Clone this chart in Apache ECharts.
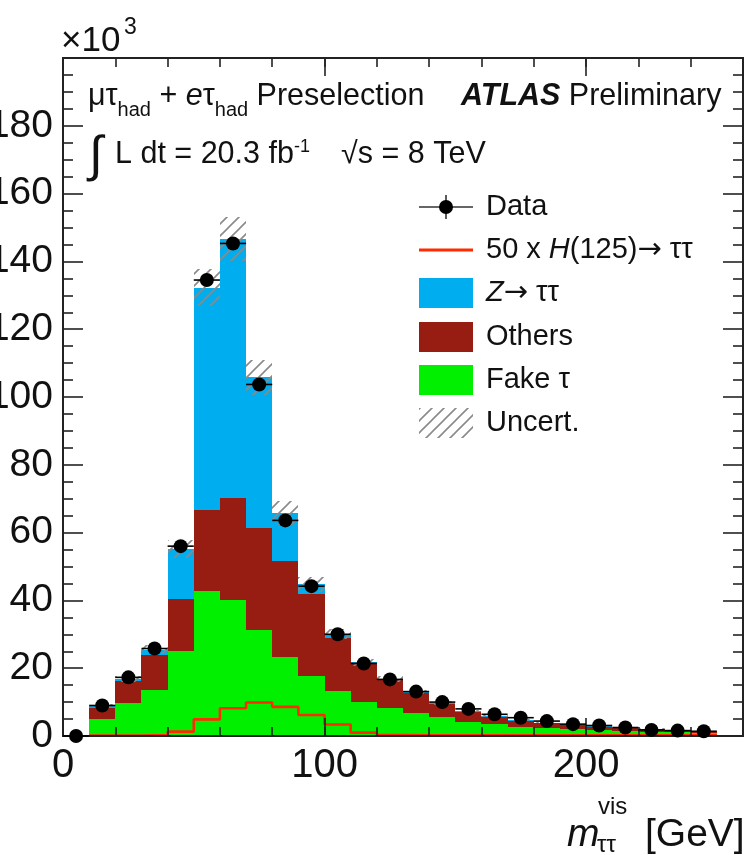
<!DOCTYPE html>
<html>
<head>
<meta charset="utf-8">
<script src="https://cdn.jsdelivr.net/npm/echarts@6/dist/echarts.min.js"></script>
<style>
  html, body { margin: 0; padding: 0; background: #ffffff; }
  #chart { width: 748px; height: 855px; }
</style>
</head>
<body>
<div id="chart"></div>
<script>
// Visible di-tau mass, bins of 10 GeV (values in units of 10^3 events)
const BIN_EDGES = [0, 10, 20, 30, 40, 50, 60, 70, 80, 90, 100, 110, 120, 130, 140, 150, 160, 170, 180, 190, 200, 210, 220, 230, 240, 250];
const DATA      = [0, 9.0, 17.3, 25.8, 56.0, 134.5, 145.3, 103.7, 63.6, 44.2, 30.0, 21.4, 16.7, 13.1, 10.0, 8.0, 6.4, 5.4, 4.4, 3.5, 3.1, 2.5, 1.8, 1.6, 1.4];
const FAKE_TAU  = [0, 5.1, 9.6, 13.5, 25.1, 42.7, 40.1, 31.2, 23.4, 17.8, 13.3, 10.1, 8.2, 6.7, 5.5, 4.2, 3.5, 2.7, 2.4, 2.0, 1.8, 1.5, 1.3, 1.1, 1.0];
const OTHERS    = [0, 3.3, 6.7, 10.4, 15.3, 23.9, 30.2, 30.3, 28.1, 24.2, 15.7, 11.3, 8.3, 5.9, 3.9, 3.0, 2.2, 1.8, 1.3, 1.2, 0.9, 0.8, 0.7, 0.5, 0.3];
const Z_TAUTAU  = [0, 0.4, 0.5, 1.6, 14.7, 65.7, 76.3, 44.3, 14.3, 2.7, 1.0, 0.3, 0.3, 0.3, 0.3, 0.2, 0.2, 0.2, 0.2, 0.2, 0.2, 0.2, 0.2, 0.2, 0.2];
const UNCERT    = [0, 0.5, 0.9, 1.4, 2.7, 5.6, 6.6, 5.1, 3.6, 2.2, 1.5, 1.1, 0.8, 0.6, 0.5, 0.4, 0.3, 0.3, 0.2, 0.2, 0.2, 0.2, 0.1, 0.1, 0.1];
const HIGGS_X50 = [0, 0.1, 0.1, 0.3, 1.3, 4.9, 8.2, 9.9, 8.6, 6.2, 3.4, 1.0, 0.3, 0.2, 0.2, 0.2, 0.2, 0.2, 0.2, 0.2, 0.2, 0.2, 0.2, 0.2, 0.2];

const X_TICK_STEP = 100;
const Y_TICK_STEP = 20;

const COL_Z = '#00adef';
const COL_OTHERS = '#971c11';
const COL_FAKE = '#00f000';
const COL_HIGGS = '#ff2a00';
const COL_AXIS = '#222222';
const FONT = '"Liberation Sans", Arial, Helvetica, sans-serif';

// diagonal hatch used for the systematic band
function makeHatch() {
  const s = 12;
  const c = document.createElement('canvas');
  c.width = s; c.height = s;
  const g = c.getContext('2d');
  g.strokeStyle = '#8a8a8a';
  g.lineWidth = 1.6;
  g.beginPath();
  g.moveTo(0, s); g.lineTo(s, 0);
  g.moveTo(-2, 2); g.lineTo(2, -2);
  g.moveTo(s - 2, s + 2); g.lineTo(s + 2, s - 2);
  g.stroke();
  return c;
}
const HATCH = { image: makeHatch(), repeat: 'repeat' };

// stacked bins: [lo, hi, base, top]
const nBins = DATA.length;
const baseZero = new Array(nBins).fill(0);
function stack(values, below) {
  return values.map((v, i) => [BIN_EDGES[i], BIN_EDGES[i + 1], below[i], below[i] + v]);
}
const fakeItems = stack(FAKE_TAU, baseZero);
const fakeTop = fakeItems.map(d => d[3]);
const othersItems = stack(OTHERS, fakeTop);
const othersTop = othersItems.map(d => d[3]);
const zItems = stack(Z_TAUTAU, othersTop);
const totalTop = zItems.map(d => d[3]);
const uncItems = totalTop.map((t, i) => [BIN_EDGES[i], BIN_EDGES[i + 1], t - UNCERT[i], t + UNCERT[i]]).filter((d, i) => UNCERT[i] > 0);

const dataPoints = DATA.map((v, i) => [(BIN_EDGES[i] + BIN_EDGES[i + 1]) / 2, v]);
const dataBars = DATA.map((v, i) => [BIN_EDGES[i], BIN_EDGES[i + 1], v]);

const higgsLine = [];
for (let i = 1; i < nBins; i++) {
  higgsLine.push([BIN_EDGES[i], HIGGS_X50[i]]);
  higgsLine.push([BIN_EDGES[i + 1], HIGGS_X50[i]]);
}

function binRect(fill) {
  return function (params, api) {
    const a = api.coord([api.value(0), api.value(3)]);
    const b = api.coord([api.value(1), api.value(2)]);
    const x0 = Math.round(a[0]), x1 = Math.round(b[0]);
    const y0 = Math.round(a[1]), y1 = Math.round(b[1]);
    return { type: 'rect', shape: { x: x0, y: y0, width: x1 - x0, height: y1 - y0 }, style: { fill: fill } };
  };
}

function xErr(params, api) {
  const a = api.coord([api.value(0), api.value(2)]);
  const b = api.coord([api.value(1), api.value(2)]);
  return { type: 'line', shape: { x1: a[0], y1: a[1], x2: b[0], y2: b[1] }, style: { stroke: '#000', lineWidth: 1.6 } };
}

function xAxisDef(pos, step, len, labels) {
  return {
    type: 'value', position: pos, min: 0, max: 260, interval: step,
    axisLine: { show: true, onZero: false, lineStyle: { color: COL_AXIS, width: 2 } },
    axisTick: { show: true, inside: true, length: len, lineStyle: { color: COL_AXIS, width: 1.6 } },
    axisLabel: labels ? { show: true, fontSize: 40, fontFamily: FONT, color: '#111', margin: 10, showMaxLabel: false } : { show: false },
    splitLine: { show: false }, z: 10
  };
}
function yAxisDef(pos, labels) {
  return {
    type: 'value', position: pos, min: 0, max: 200, interval: Y_TICK_STEP,
    axisLine: { show: true, onZero: false, lineStyle: { color: COL_AXIS, width: 2 } },
    axisTick: { show: true, inside: true, length: 20, lineStyle: { color: COL_AXIS, width: 1.6 } },
    minorTick: { show: true, splitNumber: 4, length: 10, lineStyle: { color: COL_AXIS, width: 1.6 } },
    axisLabel: labels ? { show: true, fontSize: 39, fontFamily: FONT, color: '#111', margin: 10, showMaxLabel: false } : { show: false },
    splitLine: { show: false }, minorSplitLine: { show: false }, z: 10
  };
}

// annotation helpers
function text(x, y, str, size, extra) {
  return {
    type: 'text', x: x, y: y, z: 100,
    style: Object.assign({ text: str, fontSize: size, fontFamily: FONT, fill: '#111', verticalAlign: 'middle', align: 'left' }, extra || {})
  };
}
function richText(x, y, str, rich) {
  return { type: 'text', x: x, y: y, z: 100, style: { text: str, rich: rich, fontFamily: FONT, fill: '#111', verticalAlign: 'middle', align: 'left' } };
}

const LEGEND_ROWS = [207, 250, 293, 337, 380, 423];
const ICON_X0 = 419, ICON_X1 = 473, LABEL_X = 486;
const TXT = 30.5;
const LEG = 29;

const graphics = [
  // ×10^3 exponent marker
  text(61, 41, '×10', 35),
  text(124, 28, '3', 23),
  // channel and selection
  richText(88, 97, '{n|μτ}{s|had}{n| + }{i|e}{n|τ}{s|had}{n| Preselection}', {
    n: { fontSize: TXT, lineHeight: 46, fontFamily: FONT, color: '#111' },
    i: { fontSize: TXT, lineHeight: 46, fontFamily: FONT, fontStyle: 'italic', color: '#111' },
    s: { fontSize: 20, lineHeight: 20, fontFamily: FONT, verticalAlign: 'bottom', color: '#111' }
  }),
  richText(461, 97, '{b|ATLAS}{n| Preliminary}', {
    b: { fontSize: TXT, fontFamily: FONT, fontWeight: 'bold', fontStyle: 'italic', color: '#111' },
    n: { fontSize: TXT, fontFamily: FONT, color: '#111' }
  }),
  // luminosity and energy
  text(89, 157, '∫', 50),
  richText(115, 155, '{n|L dt = 20.3 fb}{p|-1}', {
    n: { fontSize: TXT, lineHeight: 34, fontFamily: FONT, color: '#111' },
    p: { fontSize: 18, lineHeight: 18, fontFamily: FONT, verticalAlign: 'top', color: '#111' }
  }),
  text(341, 155, '√s = 8 TeV', TXT),
  // x axis title
  text(567, 835, 'm', 39, { fontStyle: 'italic' }),
  text(598, 807, 'vis', 24),
  text(597, 845, 'ττ', 24),
  text(645, 835, '[GeV]', 39),

  // legend: Data
  { type: 'line', z: 100, shape: { x1: ICON_X0, y1: LEGEND_ROWS[0], x2: ICON_X1, y2: LEGEND_ROWS[0] }, style: { stroke: '#333', lineWidth: 1.6 } },
  { type: 'line', z: 100, shape: { x1: 446, y1: LEGEND_ROWS[0] - 12, x2: 446, y2: LEGEND_ROWS[0] + 12 }, style: { stroke: '#333', lineWidth: 1.6 } },
  { type: 'circle', z: 101, shape: { cx: 446, cy: LEGEND_ROWS[0], r: 7 }, style: { fill: '#000' } },
  // legend: Higgs
  { type: 'line', z: 100, shape: { x1: ICON_X0, y1: LEGEND_ROWS[1], x2: ICON_X1, y2: LEGEND_ROWS[1] }, style: { stroke: COL_HIGGS, lineWidth: 3 } },
  // legend: filled boxes
  { type: 'rect', z: 100, shape: { x: ICON_X0, y: LEGEND_ROWS[2] - 15, width: ICON_X1 - ICON_X0, height: 30 }, style: { fill: COL_Z } },
  { type: 'rect', z: 100, shape: { x: ICON_X0, y: LEGEND_ROWS[3] - 15, width: ICON_X1 - ICON_X0, height: 30 }, style: { fill: COL_OTHERS } },
  { type: 'rect', z: 100, shape: { x: ICON_X0, y: LEGEND_ROWS[4] - 15, width: ICON_X1 - ICON_X0, height: 30 }, style: { fill: COL_FAKE } },
  { type: 'rect', z: 100, shape: { x: ICON_X0, y: LEGEND_ROWS[5] - 15, width: ICON_X1 - ICON_X0, height: 30 }, style: { fill: HATCH } },
  // legend labels
  text(LABEL_X, LEGEND_ROWS[0], 'Data', LEG),
  richText(LABEL_X, LEGEND_ROWS[1], '{n|50 x }{i|H}{n|(125)}{a|→}{n| ττ}', {
    n: { fontSize: LEG, fontFamily: FONT, color: '#111' },
    i: { fontSize: LEG, fontFamily: FONT, fontStyle: 'italic', color: '#111' },
    a: { fontSize: LEG, fontFamily: '"DejaVu Sans", sans-serif', color: '#111' }
  }),
  richText(LABEL_X, LEGEND_ROWS[2], '{i|Z}{a|→}{n| ττ}', {
    n: { fontSize: LEG, fontFamily: FONT, color: '#111' },
    i: { fontSize: LEG, fontFamily: FONT, fontStyle: 'italic', color: '#111' },
    a: { fontSize: LEG, fontFamily: '"DejaVu Sans", sans-serif', color: '#111' }
  }),
  text(LABEL_X, LEGEND_ROWS[3], 'Others', LEG),
  text(LABEL_X, LEGEND_ROWS[4], 'Fake τ', LEG),
  text(LABEL_X, LEGEND_ROWS[5], 'Uncert.', LEG)
];

const chart = echarts.init(document.getElementById('chart'), null, { renderer: 'canvas' });
chart.setOption({
  animation: false,
  backgroundColor: '#ffffff',
  grid: { left: 63, right: 5, top: 58, bottom: 119, containLabel: false, outerBoundsMode: 'none' },
  xAxis: [
    xAxisDef('bottom', X_TICK_STEP, 18, true),
    xAxisDef('bottom', 20, 9, false),
    xAxisDef('top', X_TICK_STEP, 18, false),
    xAxisDef('top', 20, 9, false)
  ],
  yAxis: [yAxisDef('left', true), yAxisDef('right', false)],
  series: [
    { name: 'Fake τ', type: 'custom', renderItem: binRect(COL_FAKE), data: fakeItems, encode: { x: [0, 1], y: [2, 3] }, clip: true, z: 2, silent: true },
    { name: 'Others', type: 'custom', renderItem: binRect(COL_OTHERS), data: othersItems, encode: { x: [0, 1], y: [2, 3] }, clip: true, z: 2, silent: true },
    { name: 'Z→ττ', type: 'custom', renderItem: binRect(COL_Z), data: zItems, encode: { x: [0, 1], y: [2, 3] }, clip: true, z: 2, silent: true },
    { name: '50 x H(125)→ττ', type: 'line', data: higgsLine, showSymbol: false, symbol: 'none', lineStyle: { color: COL_HIGGS, width: 2.6 }, z: 3, silent: true },
    { name: 'Uncert.', type: 'custom', renderItem: binRect(HATCH), data: uncItems, encode: { x: [0, 1], y: [2, 3] }, clip: true, z: 4, silent: true },
    { name: 'Data bins', type: 'custom', renderItem: xErr, data: dataBars, encode: { x: [0, 1], y: 2 }, clip: false, z: 11, silent: true },
    { name: 'Data', type: 'scatter', data: dataPoints, symbol: 'circle', symbolSize: 14, itemStyle: { color: '#000', opacity: 1 }, z: 12, silent: true }
  ],
  graphic: { elements: graphics }
});
</script>
</body>
</html>
